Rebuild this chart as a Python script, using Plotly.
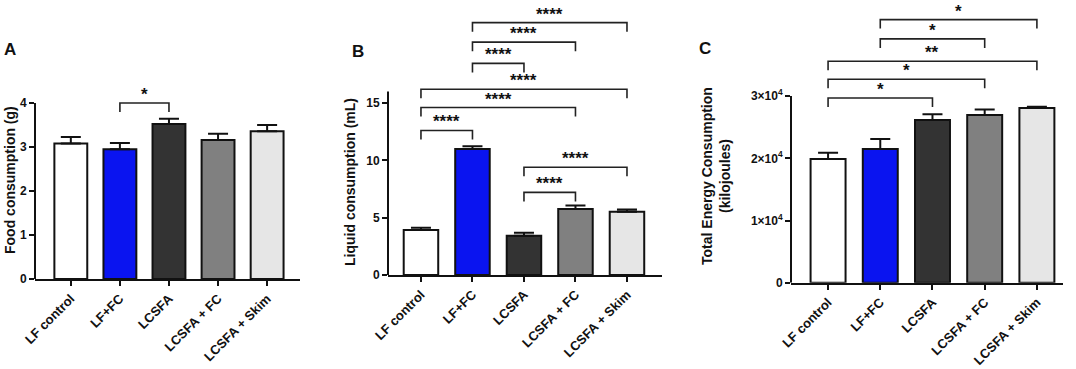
import plotly.graph_objects as go

# ---------------- data ----------------
categories = ["LF control", "LF+FC", "LCSFA", "LCSFA + FC", "LCSFA + Skim"]
bar_colors = ["#ffffff", "#0a14f0", "#333333", "#808080", "#e6e6e6"]

food_mean = [3.08, 2.95, 3.52, 3.16, 3.36]
food_sem = [0.15, 0.14, 0.12, 0.14, 0.14]

liquid_mean = [3.92, 10.98, 3.43, 5.75, 5.52]
liquid_sem = [0.20, 0.25, 0.25, 0.30, 0.20]

energy_mean = [19900, 21500, 26150, 26950, 28100]
energy_sem = [1000, 1600, 950, 900, 200]

# significance brackets: (group a, group b, bracket height, label)
food_sig = [(1, 2, 4.0, "*")]
liquid_sig = [
    (0, 1, 12.6, "****"), (0, 3, 14.6, "****"), (0, 4, 16.2, "****"),
    (1, 2, 18.45, "****"), (1, 3, 20.3, "****"), (1, 4, 22.0, "****"),
    (2, 3, 7.2, "****"), (2, 4, 9.4, "****"),
]
energy_sig = [
    (0, 2, 29700, "*"), (0, 3, 32700, "*"), (0, 4, 35600, "**"),
    (1, 3, 39200, "*"), (1, 4, 42300, "*"),
]

food_ticks = [0, 1, 2, 3, 4]
food_ticktext = ["0", "1", "2", "3", "4"]
liquid_ticks = [0, 5, 10, 15]
liquid_ticktext = ["0", "5", "10", "15"]
energy_ticks = [0, 10000, 20000, 30000]
energy_ticktext = ["0", "1×10<sup>4</sup>", "2×10<sup>4</sup>", "3×10<sup>4</sup>"]

# ---------------- layout geometry (pixels) ----------------
W, H = 1076, 369
FONT = "Liberation Sans, Arial, sans-serif"

panels = [
    dict(mean=food_mean, sem=food_sem, sig=food_sig, ticks=food_ticks, ticktext=food_ticktext,
         axis_top=4, ymax=4.5, px=(35, 300), py=(279, 81), xr=(-0.73, 4.67),
         title="Food consumption (g)", tx=10, ty=180, letter="A", lx=10, ly=50),
    dict(mean=liquid_mean, sem=liquid_sem, sig=liquid_sig, ticks=liquid_ticks, ticktext=liquid_ticktext,
         axis_top=16, ymax=23.54, px=(388, 662), py=(275, 5), xr=(-0.64, 4.68),
         title="Liquid consumption (mL)", tx=350, ty=182, letter="B", lx=358, ly=52),
    dict(mean=energy_mean, sem=energy_sem, sig=energy_sig, ticks=energy_ticks, ticktext=energy_ticktext,
         axis_top=30000, ymax=44970, px=(791, 1063), py=(282.7, 3), xr=(-0.71, 4.5),
         title="Total Energy Consumption<br>(kilojoules)", tx=716, ty=176, letter="C", lx=705, ly=49),
]

fig = go.Figure()
shapes = []
annotations = []
xs = list(range(len(categories)))

for k, p in enumerate(panels, start=1):
    xa = "x" if k == 1 else f"x{k}"
    ya = "y" if k == 1 else f"y{k}"
    fig.add_trace(go.Bar(
        x=xs, y=p["mean"], width=0.67,
        marker=dict(color=bar_colors, line=dict(color="#111111", width=2)),
        error_y=dict(type="data", symmetric=False, array=p["sem"], arrayminus=[0] * len(xs),
                     color="#111111", thickness=2, width=10),
        xaxis=xa, yaxis=ya, showlegend=False, hoverinfo="skip",
    ))
    xdom = [p["px"][0] / W, p["px"][1] / W]
    ydom = [(H - p["py"][0]) / H, (H - p["py"][1]) / H]
    layout_x = dict(
        domain=xdom, range=list(p["xr"]), anchor=ya, tickmode="array", tickvals=xs,
        ticktext=categories, tickangle=-45, ticks="outside", ticklen=5, tickwidth=1.5,
        tickcolor="#111111", showline=True, linewidth=2, linecolor="#111111",
        showgrid=False, zeroline=False, automargin=False, fixedrange=True,
        tickfont=dict(family=FONT, size=13, color="#111111", weight="bold"),
    )
    layout_y = dict(
        domain=ydom, range=[0, p["ymax"]], anchor=xa, tickmode="array", tickvals=p["ticks"],
        ticktext=p["ticktext"], ticks="outside", ticklen=5, tickwidth=1.5, tickcolor="#111111",
        showline=False, showgrid=False, zeroline=False, automargin=False, fixedrange=True,
        tickfont=dict(family=FONT, size=12, color="#111111", weight="bold"),
    )
    fig.layout[("xaxis" if k == 1 else f"xaxis{k}")] = layout_x
    fig.layout[("yaxis" if k == 1 else f"yaxis{k}")] = layout_y

    # y-axis line only up to the top tick
    shapes.append(dict(type="line", xref="paper", yref=ya, x0=xdom[0], x1=xdom[0],
                       y0=0, y1=p["axis_top"], line=dict(color="#111111", width=2)))

    # significance brackets
    px_per_unit = (p["py"][0] - p["py"][1]) / p["ymax"]
    leg = 9 / px_per_unit
    for a, b, h, lab in p["sig"]:
        shapes.append(dict(
            type="path", xref=xa, yref=ya,
            path=f"M {a},{h - leg} L {a},{h} L {b},{h} L {b},{h - leg}",
            line=dict(color="#222222", width=1.6),
        ))
        annotations.append(dict(
            x=(a + b) / 2, y=h, xref=xa, yref=ya, text=lab, showarrow=False,
            yanchor="bottom", yshift=-3,
            font=dict(family=FONT, size=17, color="#111111", weight="bold"),
        ))

    # axis title
    annotations.append(dict(
        x=p["tx"] / W, y=(H - p["ty"]) / H, xref="paper", yref="paper", text=p["title"],
        textangle=-90, showarrow=False, xanchor="center", yanchor="middle",
        font=dict(family=FONT, size=14, color="#111111", weight="bold"),
    ))
    # panel letter
    annotations.append(dict(
        x=p["lx"] / W, y=(H - p["ly"]) / H, xref="paper", yref="paper", text=p["letter"],
        showarrow=False, xanchor="center", yanchor="middle",
        font=dict(family=FONT, size=17, color="#111111", weight="bold"),
    ))

fig.update_layout(
    template="none",
    width=W, height=H, margin=dict(l=0, r=0, t=0, b=0),
    paper_bgcolor="white", plot_bgcolor="white",
    shapes=shapes, annotations=annotations, bargap=0.3,
)

fig.write_html(
    "out.html",
    config={"displayModeBar": False},
    post_script="document.body.style.margin='0';document.body.style.overflow='hidden';",
)
